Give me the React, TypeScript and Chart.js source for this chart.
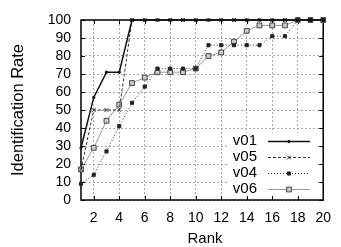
import { useEffect, useRef } from 'react';
import { Chart, registerables } from 'chart.js';
Chart.register(...registerables);

const ranks = [1, 2, 3, 4, 5, 6, 7, 8, 9, 10, 11, 12, 13, 14, 15, 16, 17, 18, 19, 20];
const v01 = [29, 57, 71, 71, 100, 100, 100, 100, 100, 100, 100, 100, 100, 100, 100, 100, 100, 100, 100, 100];
const v05 = [17, 50, 50, 50, 100, 100, 100, 100, 100, 100, 100, 100, 100, 100, 100, 100, 100, 100, 100, 100];
const v04 = [9, 14, 27, 41, 54, 63, 73, 73, 73, 73, 86, 86, 86, 86, 86, 91, 91, 100, 100, 100];
const v06 = [17, 29, 44, 53, 65, 68, 71, 71, 71, 73, 80, 82, 88, 94, 97, 97, 97, 100, 100, 100];
const seriesNames = ['v01', 'v05', 'v04', 'v06'];
const xTicks = [2, 4, 6, 8, 10, 12, 14, 16, 18, 20];
const yTicks = [0, 10, 20, 30, 40, 50, 60, 70, 80, 90, 100];
const xTitle = 'Rank';
const yTitle = 'Identification Rate';

const FONT = '"Liberation Sans", Arial, Helvetica, sans-serif';

const pts = (arr: number[]) => arr.map((v, i) => ({ x: ranks[i], y: v }));

function drawMarker(ctx: CanvasRenderingContext2D, o: any, x: number, y: number) {
  const r = o.radius;
  ctx.save();
  ctx.lineWidth = o.borderWidth;
  ctx.strokeStyle = o.borderColor;
  ctx.fillStyle = o.backgroundColor;
  ctx.setLineDash([]);
  ctx.beginPath();
  if (o.pointStyle === 'rect') {
    const s = Math.SQRT1_2 * r;
    ctx.rect(x - s, y - s, 2 * s, 2 * s);
    ctx.fill();
    ctx.stroke();
  } else if (o.pointStyle === 'crossRot') {
    const s = Math.SQRT1_2 * r;
    ctx.moveTo(x - s, y - s);
    ctx.lineTo(x + s, y + s);
    ctx.moveTo(x - s, y + s);
    ctx.lineTo(x + s, y - s);
    ctx.stroke();
  } else {
    ctx.arc(x, y, r, 0, Math.PI * 2);
    ctx.fill();
    ctx.stroke();
  }
  ctx.restore();
}

const framePlugin = {
  id: 'frame',
  beforeDatasetsDraw(chart: any) {
    const { ctx, chartArea: a, scales } = chart;
    ctx.save();
    ctx.fillStyle = '#fff';
    ctx.fillRect(228, 133, 90, 64);
    ctx.strokeStyle = '#000';
    ctx.lineWidth = 1.5;
    ctx.strokeRect(a.left, a.top, a.right - a.left, a.bottom - a.top);
    ctx.lineWidth = 1;
    const tl = 4;
    ctx.beginPath();
    xTicks.forEach((v) => {
      const x = Math.round(scales.x.getPixelForValue(v)) + 0.5;
      ctx.moveTo(x, a.bottom);
      ctx.lineTo(x, a.bottom - tl);
      ctx.moveTo(x, a.top);
      ctx.lineTo(x, a.top + tl);
    });
    yTicks.forEach((v) => {
      const y = Math.round(scales.y.getPixelForValue(v)) + 0.5;
      ctx.moveTo(a.left, y);
      ctx.lineTo(a.left + tl, y);
      ctx.moveTo(a.right, y);
      ctx.lineTo(a.right - tl, y);
    });
    ctx.stroke();
    ctx.restore();
  },
  afterDraw(chart: any) {
    const { ctx } = chart;
    ctx.save();
    ctx.fillStyle = '#000';
    ctx.textAlign = 'center';
    ctx.textBaseline = 'middle';
    ctx.font = '15px ' + FONT;
    ctx.fillText(xTitle, 205, 239);
    ctx.font = '16.5px ' + FONT;
    ctx.translate(18, 110);
    ctx.rotate(-Math.PI / 2);
    ctx.fillText(yTitle, 0, 0);
    ctx.restore();

    ctx.save();
    chart.data.datasets.forEach((ds: any, i: number) => {
      const y = 141 + i * 16;
      ctx.fillStyle = '#000';
      ctx.font = '15px ' + FONT;
      ctx.textAlign = 'right';
      ctx.textBaseline = 'middle';
      ctx.fillText(seriesNames[i], 257, y);
      ctx.strokeStyle = ds.borderColor;
      ctx.lineWidth = ds.borderWidth;
      ctx.setLineDash(ds.borderDash || []);
      ctx.beginPath();
      ctx.moveTo(268, y + 0.5);
      ctx.lineTo(310, y + 0.5);
      ctx.stroke();
      ctx.setLineDash([]);
      const el = chart.getDatasetMeta(i).data[0];
      if (el) drawMarker(ctx, el.options, 289, y + 0.5);
    });
    ctx.restore();
  },
};

export default function App() {
  const ref = useRef<HTMLCanvasElement>(null);
  useEffect(() => {
    document.body.style.margin = '0';
    const chart = new Chart(ref.current as HTMLCanvasElement, {
      type: 'line',
      data: {
        datasets: [
          {
            label: seriesNames[0],
            data: pts(v01),
            borderColor: '#111',
            borderWidth: 1.5,
            pointStyle: 'circle',
            pointRadius: 1.2,
            pointBorderWidth: 1,
            pointBackgroundColor: '#111',
            pointBorderColor: '#111',
            clip: false,
          },
          {
            label: seriesNames[1],
            data: pts(v05),
            borderColor: '#333',
            borderWidth: 1,
            borderDash: [3, 2],
            pointStyle: 'crossRot',
            pointRadius: 2.8,
            pointBorderWidth: 1,
            pointBackgroundColor: '#333',
            pointBorderColor: '#333',
            clip: false,
          },
          {
            label: seriesNames[2],
            data: pts(v04),
            borderColor: '#333',
            borderWidth: 1,
            borderDash: [1, 2],
            pointStyle: 'rect',
            pointRadius: 2.2,
            pointBorderWidth: 1,
            pointBackgroundColor: '#222',
            pointBorderColor: '#222',
            clip: false,
          },
          {
            label: seriesNames[3],
            data: pts(v06),
            borderColor: '#999',
            borderWidth: 1,
            pointStyle: 'rect',
            pointRadius: 3.4,
            pointBorderWidth: 1,
            pointBackgroundColor: '#ccc',
            pointBorderColor: '#444',
            clip: false,
          },
        ],
      } as any,
      options: {
        responsive: false,
        animation: false,
        devicePixelRatio: 1,
        layout: { padding: { top: 20, right: 12, left: 0, bottom: 0 } },
        plugins: { legend: { display: false }, tooltip: { enabled: false } },
        elements: { line: { tension: 0 } },
        scales: {
          x: {
            type: 'linear',
            min: 1,
            max: 20,
            afterBuildTicks: (s: any) => {
              s.ticks = xTicks.map((v) => ({ value: v }));
            },
            afterFit: (s: any) => {
              s.height = 47;
            },
            grid: { color: '#aaa', lineWidth: 1, drawTicks: false },
            border: { display: false, dash: [2, 2] },
            ticks: { padding: 10, color: '#000', font: { size: 14, family: FONT }, maxRotation: 0, autoSkip: false },
          },
          y: {
            type: 'linear',
            min: 0,
            max: 100,
            afterBuildTicks: (s: any) => {
              s.ticks = yTicks.map((v) => ({ value: v }));
            },
            afterFit: (s: any) => {
              s.width = 81;
            },
            grid: { color: '#aaa', lineWidth: 1, drawTicks: false },
            border: { display: false, dash: [2, 2] },
            ticks: { padding: 10, color: '#000', font: { size: 14, family: FONT }, autoSkip: false },
          },
        },
      } as any,
      plugins: [framePlugin],
    });
    return () => chart.destroy();
  }, []);
  return (
    <div style={{ position: 'absolute', left: 0, top: 0, width: 341, height: 247 }}>
      <canvas ref={ref} width={341} height={247} style={{ display: 'block' }} />
    </div>
  );
}
